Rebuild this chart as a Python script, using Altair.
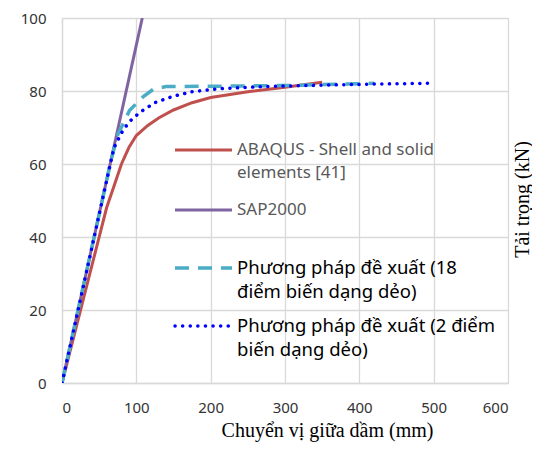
import altair as alt
import pandas as pd

# ---- data ----
abaqus_x = [0, 20, 40, 60, 70, 80, 90, 100, 115, 130, 150, 175, 200, 250, 300, 350]
abaqus_y = [0, 16, 32, 48, 54, 60, 64.5, 67.8, 70.5, 72.6, 74.8, 76.8, 78.2, 79.8, 81.0, 82.4]

sap_x = [0, 108]
sap_y = [0, 100]

p18_x = [0, 66, 75, 91, 109, 123, 140, 200, 300, 420]
p18_y = [0, 61, 68, 74.7, 78.4, 80.5, 81.2, 81.3, 81.5, 82.1]

p2_x = [0, 65, 70, 80, 90, 105, 125, 150, 175, 210, 270, 350, 420, 493]
p2_y = [0, 60, 64.5, 68.5, 71.5, 74.2, 76.8, 78.6, 79.8, 80.6, 81.2, 81.6, 81.9, 82.1]

x_ticks = [0, 100, 200, 300, 400, 500, 600]
y_ticks = [0, 20, 40, 60, 80, 100]

legend_abaqus = ["ABAQUS - Shell and solid", "elements [41]"]
legend_sap = ["SAP2000"]
legend_p18 = ["Phương pháp đề xuất (18", "điểm biến dạng dẻo)"]
legend_p2 = ["Phương pháp đề xuất (2 điểm", "biến dạng dẻo)"]

x_title = "Chuyển vị giữa dầm (mm)"
y_title = "Tải trọng (kN)"

RED = "#C0504D"
PURPLE = "#8064A2"
CYAN = "#4BACC6"
BLUE = "#0000FF"

W, H = 446, 365
SANS = "Noto Sans"
SERIF = "Liberation Serif"

xscale = alt.Scale(domain=[0, 600], nice=False)
yscale = alt.Scale(domain=[0, 100], nice=False)

xaxis = alt.Axis(values=x_ticks, grid=True, gridColor="#d9d9d9", gridWidth=1.3,
                 domainColor="#d9d9d9", domainWidth=1.3, ticks=False,
                 labelFont=SANS, labelFontSize=15, labelColor="#333333", labelPadding=17,
                 title=x_title, titleFont=SERIF, titleFontSize=20, titleFontWeight="normal",
                 titleColor="#000000", titleX=265, titleY=47, titleAlign="center",
                 titleBaseline="middle")
yaxis = alt.Axis(values=y_ticks, grid=True, gridColor="#d9d9d9", gridWidth=1.3,
                 domainColor="#d9d9d9", domainWidth=1.3, ticks=False,
                 labelFont=SANS, labelFontSize=15, labelColor="#333333", labelPadding=16,
                 title=y_title, titleFont=SERIF, titleFontSize=20, titleFontWeight="normal",
                 titleColor="#000000", titleX=460, titleY=181, titleAngle=270,
                 titleAlign="center", titleBaseline="middle")


def series(xs, ys):
    return pd.DataFrame({"x": xs, "y": ys})


def line(df, **mk):
    return alt.Chart(df).mark_line(clip=True, **mk).encode(
        x=alt.X("x:Q", scale=xscale, axis=xaxis),
        y=alt.Y("y:Q", scale=yscale, axis=yaxis),
    )


layers = [
    line(series(abaqus_x, abaqus_y), color=RED, strokeWidth=3),
    line(series(sap_x, sap_y), color=PURPLE, strokeWidth=3),
    line(series(p18_x, p18_y), color=CYAN, strokeWidth=3.5, strokeDash=[14, 9]),
    line(series(p2_x, p2_y), color=BLUE, strokeWidth=3.5, strokeDash=[0.1, 7.5], strokeCap="round"),
]

# ---- manual legend (layout positions only) ----
one = pd.DataFrame({"k": [0]})
sym_x0, sym_x1, txt_x = 113, 170, 175
entries = [
    (legend_abaqus, 132, dict(color=RED, strokeWidth=3), 17, "#595959", 23),
    (legend_sap, 192, dict(color=PURPLE, strokeWidth=3), 17, "#595959", 23),
    (legend_p18, 250, dict(color=CYAN, strokeWidth=3.5, strokeDash=[14, 9]), 18.5, "#000000", 24),
    (legend_p2, 308, dict(color=BLUE, strokeWidth=3.5, strokeDash=[0.1, 7.5], strokeCap="round"), 18.5, "#000000", 24),
]
for lines, yy, style, fs, col, lh in entries:
    layers.append(alt.Chart(one).mark_rule(**style).encode(
        x=alt.value(sym_x0), x2=alt.value(sym_x1), y=alt.value(yy)))
    for i, t in enumerate(lines):
        layers.append(alt.Chart(one).mark_text(
            text=t, font=SANS, fontSize=fs, color=col, align="left", baseline="middle"
        ).encode(x=alt.value(txt_x), y=alt.value(yy + i * lh)))

chart = alt.layer(*layers).properties(
    width=W, height=H,
    autosize=alt.AutoSizeParams(type="none"),
    padding={"left": 54, "top": 10, "right": 24, "bottom": 59},
).configure_view(stroke="transparent").configure(background="white")

chart.save("out.html", embed_options={"renderer": "svg", "actions": False})
